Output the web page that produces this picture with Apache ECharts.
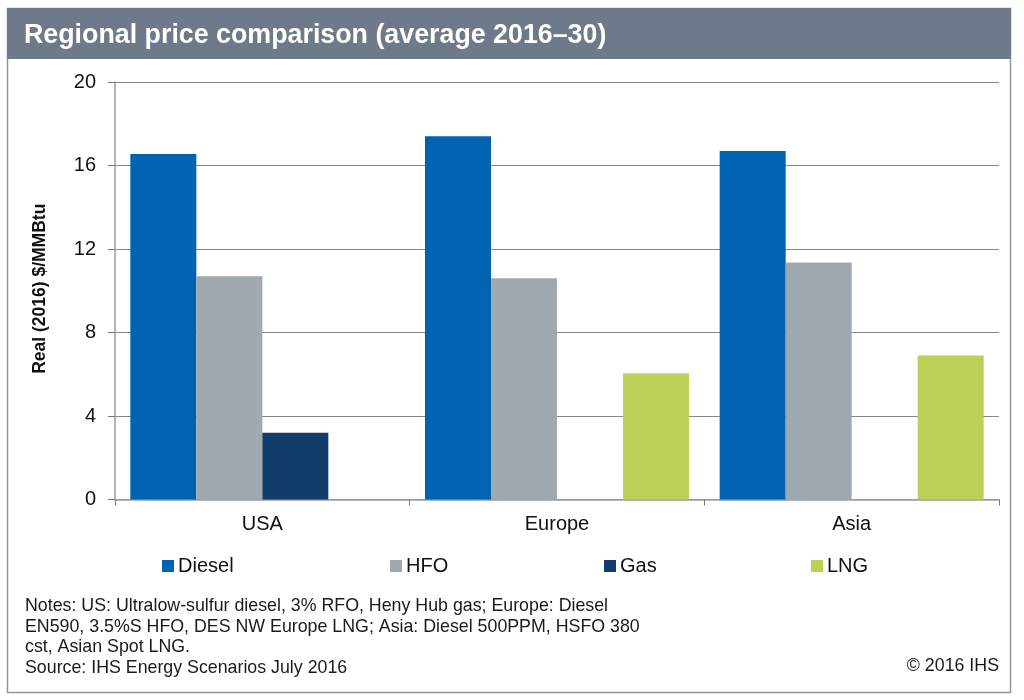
<!DOCTYPE html>
<html>
<head>
<meta charset="utf-8">
<script src="https://cdn.jsdelivr.net/npm/echarts@6/dist/echarts.min.js"></script>
<style>
html,body{margin:0;padding:0;background:#fff}
#main{width:1024px;height:700px}
</style>
</head>
<body>
<div id="main"></div>
<script>
var regions = ['USA', 'Europe', 'Asia'];
var diesel = [16.55, 17.4, 16.7];
var hfo = [10.7, 10.6, 11.35];
var gas = [3.2, null, null];
var lng = [null, 6.05, 6.9];
var yTicks = [0, 4, 8, 12, 16, 20];
var notes = [
    'Notes: US: Ultralow-sulfur diesel, 3% RFO, Heny Hub gas; Europe: Diesel',
    'EN590, 3.5%S HFO, DES NW Europe LNG; Asia: Diesel 500PPM, HSFO 380',
    'cst, Asian Spot LNG.',
    'Source: IHS Energy Scenarios July 2016'
];

var font = '"Liberation Sans", Arial, sans-serif';
var axisGray = '#9a9ea5';

function legendAt(name, left) {
    return {
        data: [{name: name, icon: 'rect'}],
        left: left,
        top: 556,
        itemWidth: 12,
        itemHeight: 12,
        itemGap: 0,
        padding: 0,
        textStyle: {fontFamily: font, fontSize: 20, color: '#111', padding: [0, 0, 0, -1]}
    };
}

function barSeries(name, values, color) {
    return {
        name: name,
        type: 'bar',
        data: values,
        barWidth: 66,
        barGap: 0,
        itemStyle: {color: color},
        z: 3
    };
}

var myChart = echarts.init(document.getElementById('main'), null, {renderer: 'canvas'});
var option = {
    animation: false,
    backgroundColor: '#fff',
    textStyle: {fontFamily: font},
    title: {
        text: 'Regional price comparison (average 2016\u201330)',
        left: 24,
        top: 22,
        padding: 0,
        textStyle: {fontFamily: font, fontSize: 26.8, fontWeight: 'bold', color: '#fff'}
    },
    grid: {left: 115, right: 25, top: 82, bottom: 200.5},
    legend: [
        legendAt('Diesel', 162),
        legendAt('HFO', 390),
        legendAt('Gas', 604),
        legendAt('LNG', 811)
    ],
    xAxis: {
        type: 'category',
        data: regions,
        axisLine: {lineStyle: {color: axisGray, width: 1.5}},
        axisTick: {show: true, length: 6, lineStyle: {color: '#777'}},
        axisLabel: {fontFamily: font, fontSize: 20, color: '#111', margin: 15}
    },
    yAxis: {
        type: 'value',
        min: yTicks[0],
        max: yTicks[yTicks.length - 1],
        interval: 4,
        name: 'Real (2016) $/MMBtu',
        nameLocation: 'middle',
        nameGap: 66,
        nameTextStyle: {fontFamily: font, fontSize: 17.5, fontWeight: 'bold', color: '#111', padding: [0, 0, 0, 4]},
        axisLine: {show: true, lineStyle: {color: axisGray, width: 1.5}},
        axisTick: {show: true, length: 7, lineStyle: {color: '#777'}},
        axisLabel: {fontFamily: font, fontSize: 20, color: '#111', margin: 19, padding: [2, 0, 0, 0]},
        splitLine: {lineStyle: {color: '#85898f', width: 1}}
    },
    series: [
        barSeries('Diesel', diesel, '#0063b1'),
        barSeries('HFO', hfo, '#a0a9b0'),
        barSeries('Gas', gas, '#123d6b'),
        barSeries('LNG', lng, '#bdd158')
    ],
    graphic: [
        {
            type: 'rect', z: -2, silent: true,
            shape: {x: 7.5, y: 8.5, width: 1003, height: 684},
            style: {fill: '#fff', stroke: '#93979c', lineWidth: 1.5}
        },
        {
            type: 'rect', z: -1, silent: true,
            shape: {x: 7, y: 8, width: 1004, height: 51},
            style: {fill: '#6e7a89'}
        },
        {
            type: 'text', silent: true, left: 25, top: 596,
            style: {text: notes.join('\n'), font: '17.8px ' + font, lineHeight: 20.5, fill: '#1a1a1a'}
        },
        {
            type: 'text', silent: true, right: 25, top: 657,
            style: {text: '\u00a9 2016 IHS', font: '17.8px ' + font, fill: '#1a1a1a'}
        }
    ]
};
myChart.setOption(option);
</script>
</body>
</html>
